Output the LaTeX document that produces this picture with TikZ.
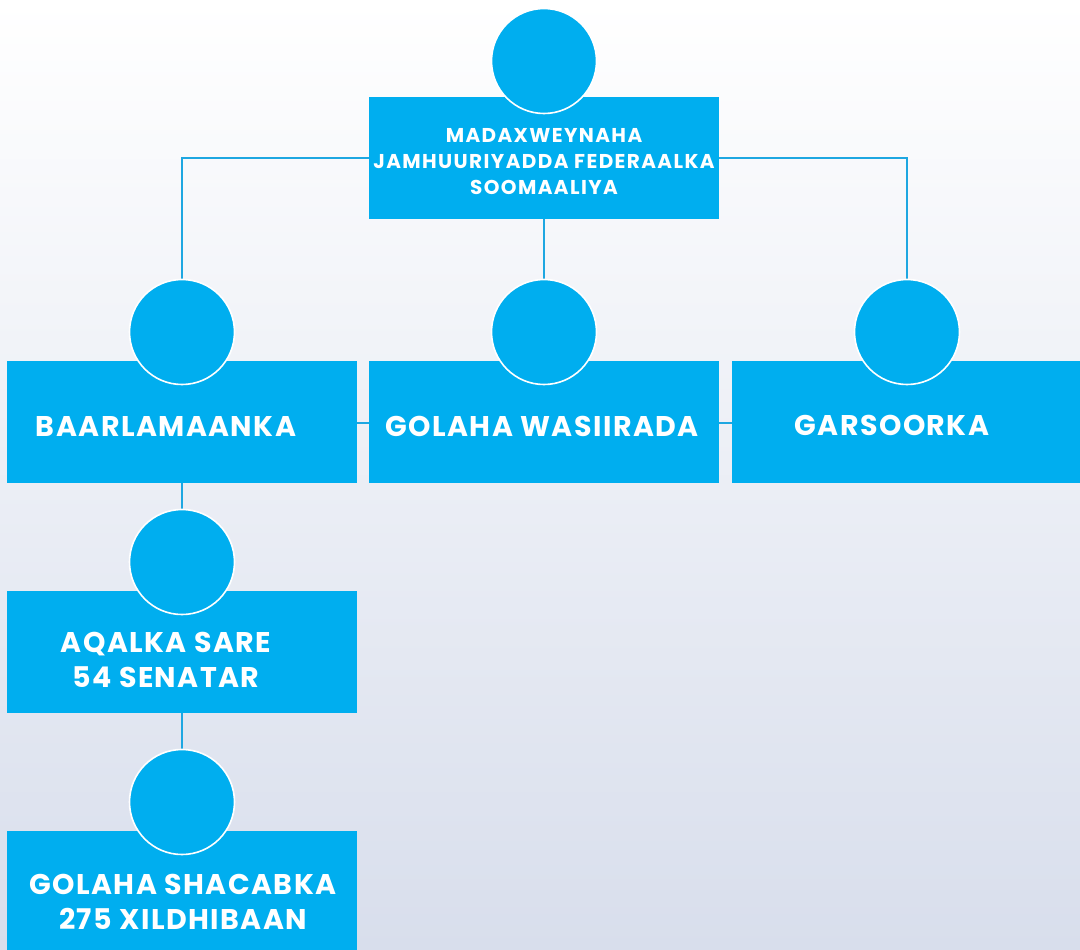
\documentclass[tikz,border=0pt]{standalone}
\usepackage{fontspec}
\setmainfont{Poppins}
\newfontfamily\lblfont[LetterSpace=5]{Poppins}
\newfontfamily\smallfont[LetterSpace=7]{Poppins}
\definecolor{boxblue}{HTML}{00AEEF}
\definecolor{lineblue}{HTML}{1EA7E1}
\definecolor{bgtop}{HTML}{FFFFFF}
\definecolor{bgmid}{HTML}{F4F6FA}
\definecolor{bgbot}{HTML}{D8DEEC}
\pgfdeclarelayer{bglayer}
\pgfdeclarelayer{linelayer}
\pgfsetlayers{bglayer,linelayer,main}
\begin{document}
\begin{tikzpicture}[x=1pt,y=-1pt,
 box/.style={fill=boxblue, draw=none, rectangle, inner sep=0pt, anchor=north west, minimum width=350pt, minimum height=122pt},
 disc/.style={circle, fill=boxblue, draw=white, line width=1.6pt, minimum size=105pt, inner sep=0pt},
 conn/.style={draw=lineblue, line width=2.2pt},
 lbl/.style={text=white, font=\lblfont\bfseries\fontsize{28.5}{35}\selectfont, align=center, inner sep=0pt},
 small/.style={text=white, font=\smallfont\bfseries\fontsize{20}{26}\selectfont, align=center, inner sep=0pt}]
\begin{pgfonlayer}{bglayer}
\shade[top color=bgtop, middle color=bgmid, bottom color=bgbot] (0,0) rectangle (1080,950);
\end{pgfonlayer}
\useasboundingbox (0,0) rectangle (1080,950);
% boxes
\node[box] (btop) at (369,97) {};
\node[box] (bparl) at (7,361) {};
\node[box] (bgov) at (369,361) {};
\node[box, minimum width=360pt] (bjud) at (732,361) {};
\node[box] (bsen) at (7,591) {};
\node[box, minimum height=130pt] (bhouse) at (7,831) {};
% circles
\node[disc] (ctop) at (544,61) {};
\node[disc] (cparl) at (182,332) {};
\node[disc] (cgov) at (544,332) {};
\node[disc] (cjud) at (907,332) {};
\node[disc] (csen) at (182,562) {};
\node[disc] (chouse) at (182,802) {};
% connectors
\coordinate (cl) at (182,158);
\coordinate (cr) at (907,158);
\coordinate (rowy) at (0,423);
\begin{pgfonlayer}{linelayer}
\draw[conn] (btop.west |- cl) -- (cl) -- (cparl.north);
\draw[conn] (btop.east |- cr) -- (cr) -- (cjud.north);
\draw[conn] (btop.south -| cgov) -- (cgov.north);
\draw[conn] (bparl.east |- rowy) -- (bgov.west |- rowy);
\draw[conn] (bgov.east |- rowy) -- (bjud.west |- rowy);
\draw[conn] (bparl.south -| csen) -- (csen.north);
\draw[conn] (bsen.south -| chouse) -- (chouse.north);
\end{pgfonlayer}
% labels
\node[small] (ttop) at (544,162) {MADAXWEYNAHA\\JAMHUURIYADDA FEDERAALKA\\SOOMAALIYA};
\node[lbl] (tparl) at (166,426) {BAARLAMAANKA};
\node[lbl] (tgov) at (542,426) {GOLAHA WASIIRADA};
\node[lbl] (tjud) at (892,425) {GARSOORKA};
\node[lbl] (tsen) at (166,660) {AQALKA SARE\\54 SENATAR};
\node[lbl] (thouse) at (183,902) {GOLAHA SHACABKA\\275 XILDHIBAAN};
\end{tikzpicture}
\end{document}
